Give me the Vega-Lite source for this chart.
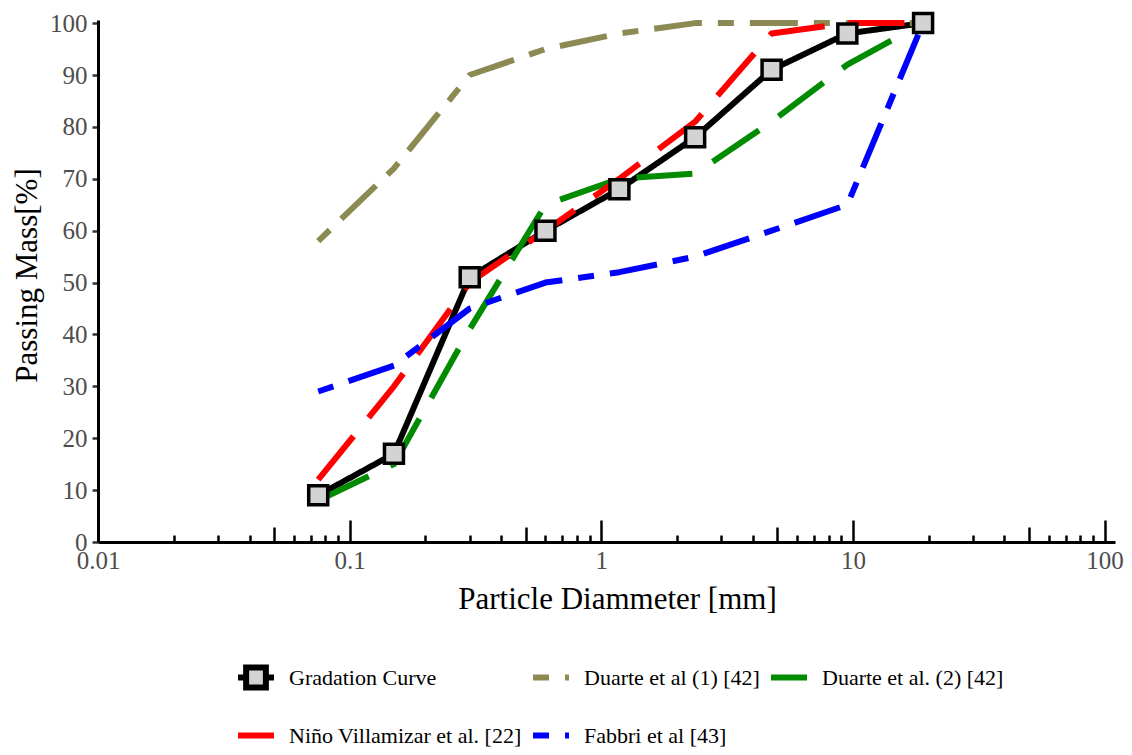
{
  "$schema": "https://vega.github.io/schema/vega-lite/v6.json",
  "width": 1017,
  "height": 522,
  "autosize": {"type": "none"},
  "padding": {"left": 98, "top": 20, "right": 17, "bottom": 213},
  "background": "white",
  "config": {
    "view": {"stroke": null},
    "font": "Liberation Serif",
    "legend": {
      "orient": "none",
      "legendX": 137,
      "legendY": 636,
      "direction": "horizontal",
      "columns": 3,
      "padding": 0,
      "title": null,
      "symbolType": "stroke",
      "symbolSize": 1296,
      "symbolStrokeWidth": 6,
      "symbolOpacity": 1,
      "clipHeight": 43,
      "rowPadding": 15,
      "columnPadding": 8,
      "labelOffset": 12,
      "labelFont": "Liberation Serif",
      "labelFontSize": 22,
      "labelColor": "#000000",
      "labelLimit": 400
    }
  },
  "data": {
    "values": [
      {"series": "Gradation Curve", "d": 0.075, "p": 9},
      {"series": "Gradation Curve", "d": 0.15, "p": 17},
      {"series": "Gradation Curve", "d": 0.3, "p": 51},
      {"series": "Gradation Curve", "d": 0.6, "p": 60},
      {"series": "Gradation Curve", "d": 1.18, "p": 68},
      {"series": "Gradation Curve", "d": 2.36, "p": 78},
      {"series": "Gradation Curve", "d": 4.75, "p": 91},
      {"series": "Gradation Curve", "d": 9.5, "p": 98},
      {"series": "Gradation Curve", "d": 19, "p": 100},
      {"series": "Duarte et al (1) [42]", "d": 0.075, "p": 58},
      {"series": "Duarte et al (1) [42]", "d": 0.15, "p": 72},
      {"series": "Duarte et al (1) [42]", "d": 0.3, "p": 90},
      {"series": "Duarte et al (1) [42]", "d": 0.6, "p": 95},
      {"series": "Duarte et al (1) [42]", "d": 1.18, "p": 98},
      {"series": "Duarte et al (1) [42]", "d": 2.36, "p": 100},
      {"series": "Duarte et al (1) [42]", "d": 4.75, "p": 100},
      {"series": "Duarte et al (1) [42]", "d": 9.5, "p": 100},
      {"series": "Duarte et al (1) [42]", "d": 19, "p": 100},
      {"series": "Duarte et al. (2) [42]", "d": 0.075, "p": 8},
      {"series": "Duarte et al. (2) [42]", "d": 0.15, "p": 15},
      {"series": "Duarte et al. (2) [42]", "d": 0.3, "p": 41},
      {"series": "Duarte et al. (2) [42]", "d": 0.6, "p": 65},
      {"series": "Duarte et al. (2) [42]", "d": 1.18, "p": 70},
      {"series": "Duarte et al. (2) [42]", "d": 2.36, "p": 71},
      {"series": "Duarte et al. (2) [42]", "d": 4.75, "p": 81},
      {"series": "Duarte et al. (2) [42]", "d": 9.5, "p": 92},
      {"series": "Duarte et al. (2) [42]", "d": 19, "p": 100},
      {"series": "Niño Villamizar et al. [22]", "d": 0.075, "p": 12},
      {"series": "Niño Villamizar et al. [22]", "d": 0.15, "p": 30},
      {"series": "Niño Villamizar et al. [22]", "d": 0.3, "p": 50},
      {"series": "Niño Villamizar et al. [22]", "d": 0.6, "p": 60},
      {"series": "Niño Villamizar et al. [22]", "d": 1.18, "p": 70},
      {"series": "Niño Villamizar et al. [22]", "d": 2.36, "p": 81},
      {"series": "Niño Villamizar et al. [22]", "d": 4.75, "p": 98},
      {"series": "Niño Villamizar et al. [22]", "d": 9.5, "p": 100},
      {"series": "Niño Villamizar et al. [22]", "d": 19, "p": 100},
      {"series": "Fabbri et al [43]", "d": 0.075, "p": 29},
      {"series": "Fabbri et al [43]", "d": 0.15, "p": 34},
      {"series": "Fabbri et al [43]", "d": 0.3, "p": 45},
      {"series": "Fabbri et al [43]", "d": 0.6, "p": 50},
      {"series": "Fabbri et al [43]", "d": 1.18, "p": 52},
      {"series": "Fabbri et al [43]", "d": 2.36, "p": 55},
      {"series": "Fabbri et al [43]", "d": 4.75, "p": 60},
      {"series": "Fabbri et al [43]", "d": 9.5, "p": 65},
      {"series": "Fabbri et al [43]", "d": 19, "p": 100}
    ]
  },
  "layer": [
    {
      "mark": {"type": "line", "strokeWidth": 6, "strokeCap": "butt", "strokeJoin": "round"},
      "encoding": {
        "x": {
          "field": "d",
          "type": "quantitative",
          "scale": {"type": "log", "domain": [0.01, 110], "nice": false, "zero": false},
          "axis": {
            "title": "Particle Diammeter [mm]",
            "titleFont": "Liberation Serif",
            "titleFontSize": 31,
            "titleFontWeight": "normal",
            "titleColor": "#000000",
            "titlePadding": -4,
            "titleX": 519,
            "values": [0.01, 0.02, 0.03, 0.04, 0.05, 0.06, 0.07, 0.08, 0.09,
                       0.1, 0.2, 0.3, 0.4, 0.5, 0.6, 0.7, 0.8, 0.9,
                       1, 2, 3, 4, 5, 6, 7, 8, 9,
                       10, 20, 30, 40, 50, 60, 70, 80, 90, 100],
            "labelExpr": "indexof([0.01, 0.1, 1, 10, 100], datum.value) >= 0 ? format(datum.value, '~g') : ''",
            "labelFont": "Liberation Serif",
            "labelFontSize": 25,
            "labelColor": "#4d4d4d",
            "labelPadding": 28,
            "labelOverlap": false,
            "labelFlush": false,
            "grid": false,
            "ticks": true,
            "tickSize": {
              "condition": [
                {"test": "indexof([0.01, 0.1, 1, 10, 100], datum.value) >= 0", "value": -22},
                {"test": "indexof([0.05, 0.5, 5, 50], datum.value) >= 0", "value": -15}
              ],
              "value": -7
            },
            "tickColor": "#000000",
            "tickWidth": 2.5,
            "domainColor": "#000000",
            "domainWidth": 3
          }
        },
        "y": {
          "field": "p",
          "type": "quantitative",
          "scale": {"domain": [0, 100.6], "nice": false},
          "axis": {
            "title": "Passing Mass[%]",
            "titleFont": "Liberation Serif",
            "titleFontSize": 31,
            "titleFontWeight": "normal",
            "titleColor": "#000000",
            "titlePadding": 6,
            "titleY": 255,
            "values": [0, 10, 20, 30, 40, 50, 60, 70, 80, 90, 100],
            "labelFont": "Liberation Serif",
            "labelFontSize": 25,
            "labelColor": "#4d4d4d",
            "labelPadding": 5,
            "grid": false,
            "tickSize": 6,
            "tickColor": "#333333",
            "tickWidth": 2.5,
            "domainColor": "#000000",
            "domainWidth": 3
          }
        },
        "color": {
          "field": "series",
          "type": "nominal",
          "scale": {
            "domain": ["Gradation Curve", "Duarte et al (1) [42]", "Duarte et al. (2) [42]", "Niño Villamizar et al. [22]", "Fabbri et al [43]"],
            "range": ["#000000", "#8c8a52", "#008b00", "#ff0000", "#0000ff"]
          },
          "legend": {
            "encode": {
              "symbols": {
                "update": {
                  "shape": {"signal": "datum.value === 'Gradation Curve' ? 'M-1,0H-0.55M0.55,0H1M-0.55,-0.55H0.55V0.55H-0.55Z' : 'stroke'"},
                  "fill": {"signal": "datum.value === 'Gradation Curve' ? '#d3d3d3' : 'transparent'"}
                }
              }
            }
          }
        },
        "strokeDash": {
          "field": "series",
          "type": "nominal",
          "scale": {
            "domain": ["Gradation Curve", "Duarte et al (1) [42]", "Duarte et al. (2) [42]", "Niño Villamizar et al. [22]", "Fabbri et al [43]"],
            "range": [[1, 0], [16, 16, 48, 16], [56, 24], [56, 24], [16, 16, 48, 16]]
          }
        }
      }
    },
    {
      "transform": [{"filter": "datum.series === 'Gradation Curve'"}],
      "mark": {"type": "point", "shape": "square", "filled": true, "fill": "#d3d3d3", "stroke": "#000000", "strokeWidth": 3.5, "size": 361, "opacity": 1},
      "encoding": {
        "x": {"field": "d", "type": "quantitative"},
        "y": {"field": "p", "type": "quantitative"}
      }
    }
  ]
}
